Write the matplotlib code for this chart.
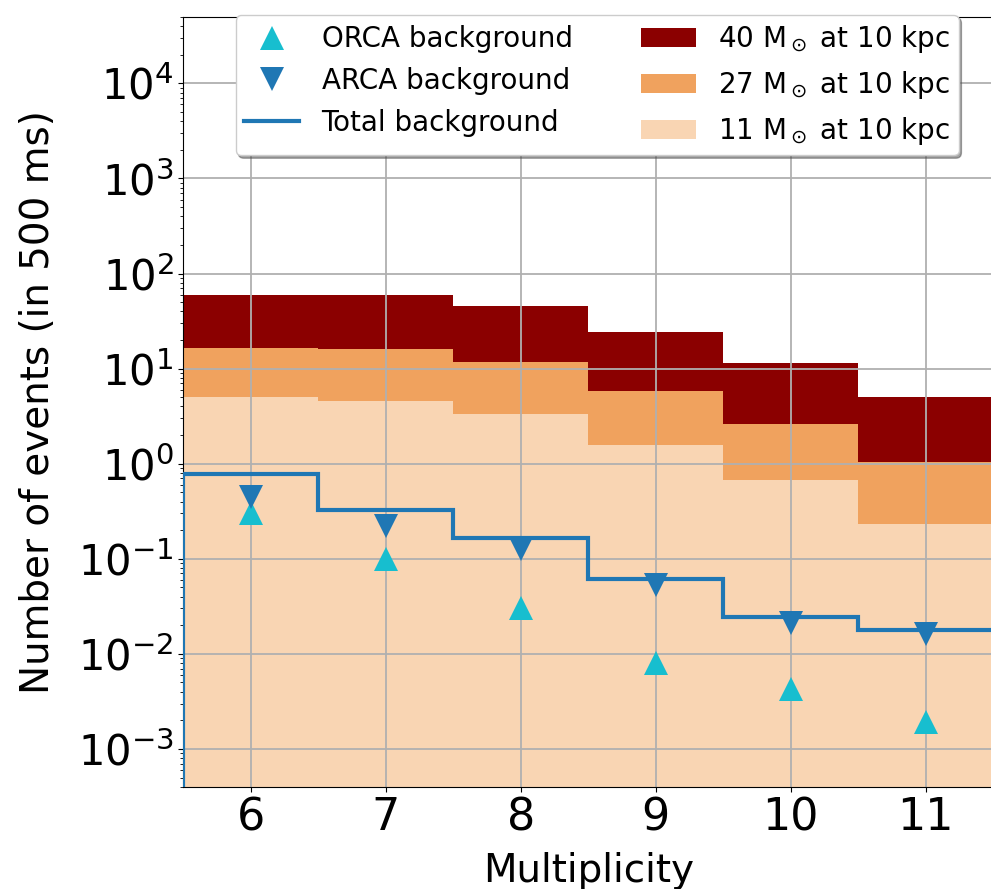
import numpy as np
import matplotlib
matplotlib.use("Agg")
import matplotlib.pyplot as plt

# Multiplicity bins
multiplicity = [6, 7, 8, 9, 10, 11]
bin_edges = [5.5, 6.5, 7.5, 8.5, 9.5, 10.5, 11.5]

# Expected supernova signal counts per 500 ms, by progenitor mass at 10 kpc
signal_40 = [59.0, 60.0, 45.0, 24.0, 11.5, 5.0]
signal_27 = [16.4, 16.0, 11.7, 5.8, 2.6, 1.05]
signal_11 = [5.0, 4.6, 3.3, 1.56, 0.67, 0.233]

# Background counts per 500 ms
orca_bkg = [0.305, 0.100, 0.030, 0.0080, 0.0043, 0.0019]
arca_bkg = [0.45, 0.22, 0.127, 0.053, 0.021, 0.016]
total_bkg = [0.785, 0.328, 0.165, 0.061, 0.0246, 0.018]

signal_labels = [r"40 M$_\odot$ at 10 kpc", r"27 M$_\odot$ at 10 kpc",
                 r"11 M$_\odot$ at 10 kpc"]
signal_colors = ["#8b0000", "#f0a25e", "#f9d5b3"]

plt.rcParams["font.family"] = ["DejaVu Sans"]

fig = plt.figure(figsize=(9.91, 8.89), dpi=100)
ax = fig.add_axes([0.185, 0.115, 0.817, 0.866])
ax.set_yscale("log")

floor = 1e-6
handles = []
for vals, col, lab in zip([signal_40, signal_27, signal_11], signal_colors,
                          signal_labels):
    h = ax.stairs(vals, bin_edges, baseline=floor, fill=True, color=col,
                  label=lab, zorder=1)
    handles.append(h)

h_orca, = ax.plot(multiplicity, orca_bkg, ls="none", marker="^", ms=17,
                  color="#17becf", mew=0, label="ORCA background", zorder=4)
h_arca, = ax.plot(multiplicity, arca_bkg, ls="none", marker="v", ms=17,
                  color="#1f77b4", mew=0, label="ARCA background", zorder=4)
ax.stairs(total_bkg, bin_edges, baseline=floor, fill=False, color="#1f77b4",
          lw=3, zorder=3)
h_total, = ax.plot([], [], color="#1f77b4", lw=3, label="Total background")

ax.set_xlim(5.5, 11.5)
ax.set_ylim(4e-4, 5e4)
ax.set_xticks(multiplicity)
ax.grid(True, which="major", color="#b0b0b0", lw=1.3)
ax.tick_params(axis="x", labelsize=32)
ax.tick_params(axis="y", labelsize=30)
ax.set_xlabel("Multiplicity", fontsize=28, labelpad=9)
ax.set_ylabel("Number of events (in 500 ms)", fontsize=28, labelpad=15)

leg = ax.legend([h_orca, h_arca, h_total] + handles,
                ["ORCA background", "ARCA background", "Total background"]
                + signal_labels,
                ncol=2, loc="upper center", bbox_to_anchor=(0.511, 1.0025),
                borderaxespad=0, fontsize=20, numpoints=1, shadow=True,
                framealpha=1, columnspacing=2.45, labelspacing=0.5,
                borderpad=0.3)

fig.savefig("out.png", dpi=100)
